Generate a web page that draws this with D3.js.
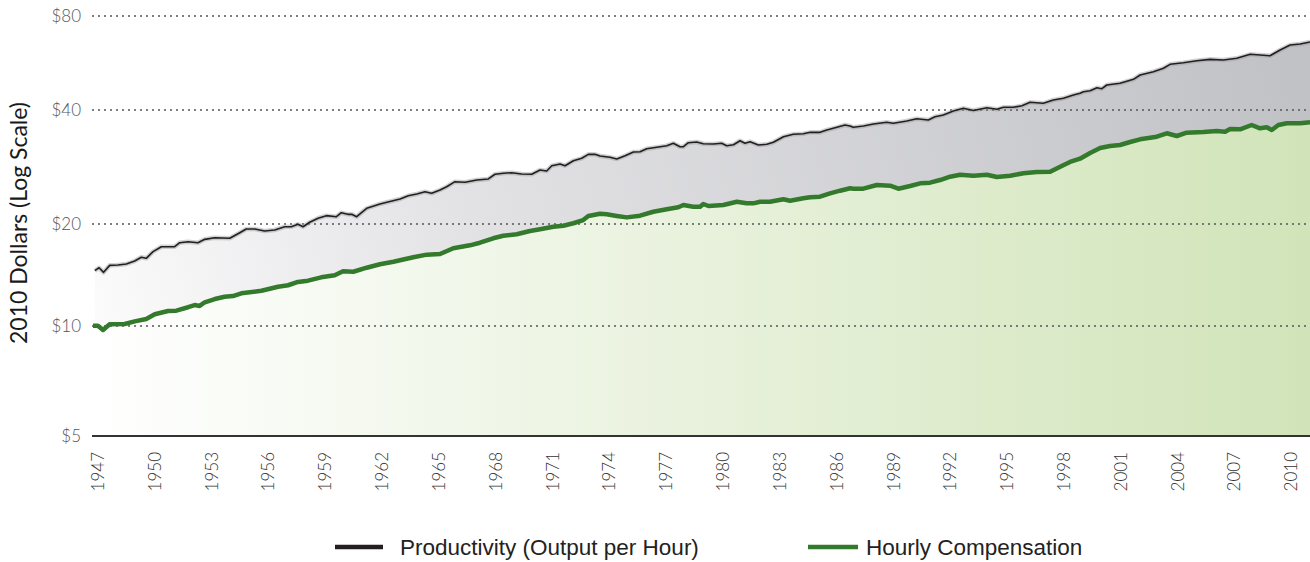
<!DOCTYPE html>
<html>
<head>
<meta charset="utf-8">
<script src="https://cdn.jsdelivr.net/npm/d3@7"></script>
<style>
  html, body { margin: 0; padding: 0; background: #fff; }
  #chart { width: 1310px; height: 562px; }
</style>
</head>
<body>
<div id="chart"></div>
<script>
// Productivity (output per hour), 2010 dollars
let prodYears = [1947.1, 1947.32, 1947.56, 1947.88, 1948.32, 1948.76, 1949.2, 1949.55, 1949.81, 1950.17,
  1950.61, 1951.31, 1951.58, 1952.02, 1952.54, 1952.9, 1953.43, 1954.22, 1954.75, 1955.09,
  1955.54, 1956.06, 1956.59, 1957.12, 1957.47, 1957.82, 1958.09, 1958.44, 1958.88, 1959.32,
  1959.85, 1960.11, 1960.46, 1960.66, 1960.92, 1961.19, 1961.45, 1962.15, 1962.51, 1963.21,
  1963.64, 1964.09, 1964.53, 1964.88, 1965.32, 1965.67, 1966.11, 1966.64, 1967.26, 1967.87,
  1968.22, 1968.66, 1969.11, 1969.63, 1970.16, 1970.6, 1970.95, 1971.22, 1971.66, 1971.92,
  1972.36, 1972.8, 1973.15, 1973.5, 1973.77, 1974.3, 1974.65, 1975.09, 1975.53, 1975.88,
  1976.23, 1976.76, 1977.29, 1977.64, 1977.99, 1978.17, 1978.43, 1978.87, 1979.22, 1979.75,
  1980.19, 1980.46, 1980.81, 1981.16, 1981.42, 1981.69, 1982.13, 1982.57, 1982.92, 1983.45,
  1983.97, 1984.5, 1984.86, 1985.38, 1985.74, 1986.27, 1986.7, 1986.97, 1987.14, 1987.67,
  1988.2, 1988.9, 1989.25, 1989.96, 1990.49, 1991.1, 1991.45, 1991.89, 1992.42, 1992.95,
  1993.48, 1994.19, 1994.72, 1995.06, 1995.59, 1996.04, 1996.47, 1997.17, 1997.7, 1998.23,
  1998.76, 1999.11, 1999.29, 1999.64, 2000.0, 2000.26, 2000.52, 2001.22, 2001.93, 2002.28,
  2002.98, 2003.51, 2003.86, 2004.56, 2005.27, 2005.97, 2006.68, 2007.38, 2008.09, 2008.62,
  2009.14, 2009.67, 2010.2, 2010.73, 2011.25];
let prodValues = [14.56, 14.86, 14.40, 15.10, 15.14, 15.24, 15.55, 15.95, 15.84, 16.57,
  17.14, 17.14, 17.61, 17.73, 17.61, 18.02, 18.22, 18.15, 18.85, 19.33,
  19.33, 19.07, 19.20, 19.63, 19.63, 19.96, 19.63, 20.21, 20.71, 21.04,
  20.91, 21.42, 21.21, 21.21, 20.91, 21.47, 22.00, 22.59, 22.82, 23.28,
  23.75, 24.00, 24.34, 24.10, 24.59, 25.09, 25.87, 25.77, 26.13, 26.30,
  27.06, 27.23, 27.32, 27.11, 27.06, 27.77, 27.60, 28.51, 28.80, 28.51,
  29.39, 29.82, 30.55, 30.55, 30.24, 30.00, 29.69, 30.29, 30.98, 31.04,
  31.61, 31.89, 32.20, 32.67, 32.00, 32.00, 32.79, 32.93, 32.58, 32.53,
  32.67, 32.20, 32.39, 33.19, 32.67, 32.99, 32.33, 32.47, 32.87, 34.01,
  34.51, 34.63, 34.92, 34.92, 35.42, 36.00, 36.51, 36.30, 36.00, 36.30,
  36.73, 37.12, 36.90, 37.41, 37.94, 37.64, 38.40, 38.80, 39.76, 40.50,
  39.90, 40.68, 40.21, 40.80, 40.80, 41.29, 42.34, 42.02, 43.06, 43.60,
  44.68, 45.24, 45.78, 46.12, 47.15, 46.80, 48.10, 48.71, 50.16, 51.78,
  53.06, 54.40, 56.02, 56.69, 57.54, 58.12, 57.84, 58.56, 60.31, 60.00,
  59.70, 62.25, 64.60, 65.08, 66.04];

// Hourly compensation, 2010 dollars
let compYears = [1947.0, 1947.26, 1947.53, 1947.88, 1948.67, 1949.2, 1949.81, 1950.26, 1950.96, 1951.4,
  1952.02, 1952.37, 1952.63, 1952.9, 1953.43, 1953.95, 1954.39, 1954.83, 1955.89, 1956.77,
  1957.3, 1957.82, 1958.35, 1959.05, 1959.76, 1960.2, 1960.74, 1961.45, 1962.15, 1962.86,
  1963.56, 1963.91, 1964.62, 1965.32, 1966.02, 1966.9, 1967.43, 1968.13, 1968.66, 1969.37,
  1970.07, 1970.6, 1971.3, 1971.83, 1972.36, 1972.88, 1973.15, 1973.77, 1974.12, 1974.65,
  1975.18, 1975.88, 1976.58, 1977.29, 1977.9, 1978.17, 1978.69, 1979.05, 1979.22, 1979.49,
  1980.28, 1980.99, 1981.51, 1981.86, 1982.22, 1982.74, 1983.45, 1983.8, 1984.5, 1984.86,
  1985.38, 1985.91, 1986.44, 1986.97, 1987.14, 1987.67, 1988.38, 1989.08, 1989.52, 1990.14,
  1990.67, 1991.19, 1991.72, 1992.25, 1992.78, 1993.48, 1994.19, 1994.72, 1995.42, 1996.12,
  1996.83, 1997.53, 1998.06, 1998.58, 1999.11, 1999.64, 2000.17, 2000.69, 2001.22, 2001.75,
  2002.28, 2003.16, 2003.69, 2004.22, 2004.74, 2005.62, 2006.33, 2006.77, 2007.03, 2007.56,
  2008.17, 2008.61, 2008.97, 2009.23, 2009.58, 2010.02, 2010.73, 2011.25];
let compValues = [10.02, 10.02, 9.75, 10.12, 10.14, 10.32, 10.49, 10.83, 11.07, 11.10,
  11.36, 11.53, 11.46, 11.75, 12.01, 12.20, 12.26, 12.49, 12.71, 13.06,
  13.19, 13.49, 13.61, 13.92, 14.11, 14.50, 14.46, 14.86, 15.21, 15.48,
  15.80, 15.95, 16.24, 16.31, 16.96, 17.30, 17.61, 18.15, 18.47, 18.65,
  19.07, 19.30, 19.63, 19.77, 20.09, 20.49, 21.00, 21.29, 21.21, 21.00,
  20.82, 21.04, 21.55, 21.87, 22.14, 22.45, 22.22, 22.22, 22.59, 22.31,
  22.45, 22.90, 22.68, 22.68, 22.90, 22.90, 23.24, 23.04, 23.38, 23.52,
  23.61, 24.10, 24.49, 24.85, 24.79, 24.79, 25.35, 25.24, 24.79, 25.20,
  25.61, 25.71, 26.13, 26.66, 26.99, 26.83, 26.99, 26.61, 26.83, 27.22,
  27.44, 27.49, 28.34, 29.16, 29.75, 30.80, 31.75, 32.13, 32.33, 32.93,
  33.47, 34.01, 34.72, 34.15, 34.84, 34.99, 35.20, 35.06, 35.64, 35.57,
  36.51, 35.79, 36.00, 35.42, 36.51, 36.90, 36.90, 37.12];

let yTicks = [5, 10, 20, 40, 80];
let xTicks = [1947, 1950, 1953, 1956, 1959, 1962, 1965, 1968, 1971, 1974, 1977, 1980, 1983,
  1986, 1989, 1992, 1995, 1998, 2001, 2004, 2007, 2010];
let legendLabels = ['Productivity (Output per Hour)', 'Hourly Compensation'];

let prod = prodYears.map((d, i) => ({ year: d, value: prodValues[i] }));
let comp = compYears.map((d, i) => ({ year: d, value: compValues[i] }));

let width = 1310, height = 562;
let left = 93, right = 1310;

let svg = d3.select('#chart').append('svg')
  .attr('width', width)
  .attr('height', height);

let x = d3.scaleLinear().domain([1947, 2011.25]).range([left, right]);
// gridlines in the original are not evenly spaced, so the log scale is piecewise
let y = d3.scaleLog().domain([5, 10, 20, 40, 80]).range([436, 326, 224, 110, 16]);

let defs = svg.append('defs');

let grayGrad = defs.append('linearGradient')
  .attr('id', 'grayGrad')
  .attr('gradientUnits', 'userSpaceOnUse')
  .attr('x1', 60).attr('y1', 420)
  .attr('x2', 1310).attr('y2', 40);
grayGrad.append('stop').attr('offset', '0%').attr('stop-color', '#ffffff');
grayGrad.append('stop').attr('offset', '35%').attr('stop-color', '#e2e2e5');
grayGrad.append('stop').attr('offset', '100%').attr('stop-color', '#c0c1c5');

let greenGrad = defs.append('linearGradient')
  .attr('id', 'greenGrad')
  .attr('gradientUnits', 'userSpaceOnUse')
  .attr('x1', left).attr('y1', 0)
  .attr('x2', right).attr('y2', 0);
greenGrad.append('stop').attr('offset', '0%').attr('stop-color', '#ffffff');
greenGrad.append('stop').attr('offset', '100%').attr('stop-color', '#d1e4b9');

let prodArea = d3.area()
  .x(d => x(d.year))
  .y0(y(5))
  .y1(d => y(d.value));

let compArea = d3.area()
  .x(d => x(d.year))
  .y0(y(5))
  .y1(d => y(d.value));

let line = d3.line()
  .x(d => x(d.year))
  .y(d => y(d.value));

// Areas
svg.append('path')
  .datum(prod)
  .attr('d', prodArea)
  .attr('fill', 'url(#grayGrad)');

svg.append('path')
  .datum(comp)
  .attr('d', compArea)
  .attr('fill', 'url(#greenGrad)');

// Gridlines
svg.selectAll('.grid')
  .data(yTicks.filter(d => d !== 5))
  .enter().append('line')
  .attr('class', 'grid')
  .attr('x1', 92).attr('x2', right)
  .attr('y1', d => y(d)).attr('y2', d => y(d))
  .attr('stroke', '#555')
  .attr('stroke-width', 1.3)
  .attr('stroke-dasharray', '2,4');

// Baseline
svg.append('line')
  .attr('x1', 92).attr('x2', right)
  .attr('y1', y(5)).attr('y2', y(5))
  .attr('stroke', '#333')
  .attr('stroke-width', 2);

// Lines
svg.append('path')
  .datum(prod)
  .attr('d', line)
  .attr('fill', 'none')
  .attr('stroke', '#9a9a9c')
  .attr('stroke-opacity', 0.45)
  .attr('stroke-width', 4.5)
  .attr('stroke-linejoin', 'round');

svg.append('path')
  .datum(prod)
  .attr('d', line)
  .attr('fill', 'none')
  .attr('stroke', '#231f20')
  .attr('stroke-width', 1.6)
  .attr('stroke-linejoin', 'round');

svg.append('path')
  .datum(comp)
  .attr('d', line)
  .attr('fill', 'none')
  .attr('stroke', '#347a2c')
  .attr('stroke-width', 4.5)
  .attr('stroke-linejoin', 'round');

// Y tick labels
svg.selectAll('.ylab')
  .data(yTicks)
  .enter().append('text')
  .attr('class', 'ylab')
  .attr('x', 81)
  .attr('y', d => y(d))
  .attr('dy', '0.35em')
  .attr('text-anchor', 'end')
  .style('font-family', 'Lato, "Open Sans", sans-serif')
  .style('font-weight', 300)
  .style('font-size', '17px')
  .style('fill', '#555')
  .text(d => '$' + d);

// Y title
svg.append('text')
  .attr('transform', 'translate(27,223) rotate(-90)')
  .attr('text-anchor', 'middle')
  .style('font-family', 'Lato, "Open Sans", sans-serif')
  .style('font-size', '23px')
  .style('fill', '#1a1a1a')
  .text('2010 Dollars (Log Scale)');

// X tick labels
svg.selectAll('.xlab')
  .data(xTicks)
  .enter().append('text')
  .attr('class', 'xlab')
  .attr('transform', d => 'translate(' + (x(d) + 5) + ',452) rotate(-90)')
  .attr('dy', '0.35em')
  .attr('text-anchor', 'end')
  .style('font-family', 'Lato, "Open Sans", sans-serif')
  .style('font-weight', 300)
  .style('font-size', '17px')
  .style('fill', '#333')
  .text(d => d);

// Legend
let legend = svg.append('g').attr('class', 'legend');
let legendItems = [
  { label: legendLabels[0], color: '#231f20', x0: 335, x1: 383, tx: 400 },
  { label: legendLabels[1], color: '#347a2c', x0: 808, x1: 858, tx: 866 }
];
legendItems.forEach(function(item) {
  legend.append('line')
    .attr('x1', item.x0).attr('x2', item.x1)
    .attr('y1', 547).attr('y2', 547)
    .attr('stroke', item.color)
    .attr('stroke-width', 4.5);
  legend.append('text')
    .attr('x', item.tx)
    .attr('y', 547)
    .attr('dy', '0.35em')
    .style('font-family', '"Liberation Sans", Arial, sans-serif')
    .style('font-size', '22.5px')
    .style('fill', '#222')
    .text(item.label);
});
</script>
</body>
</html>
